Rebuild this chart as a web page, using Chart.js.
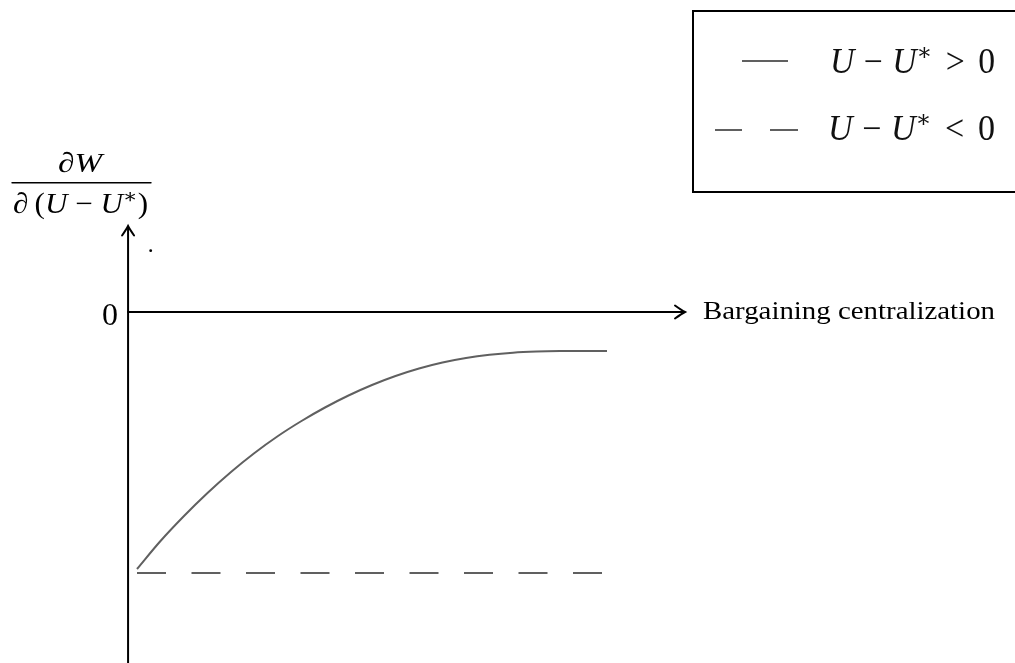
<!DOCTYPE html>
<html><head><meta charset="utf-8">
<script src="https://cdn.jsdelivr.net/npm/chart.js@4.4.0/dist/chart.umd.min.js"></script>
<style>html,body{margin:0;padding:0;background:#fff;}canvas{display:block;}</style>
</head><body>
<canvas id="c" width="1015" height="663"></canvas>
<script>
// ---- data (x: bargaining centralization, y: dW/d(U-U*)) ----
const curveX = [0, 0.5, 1, 1.5, 2, 2.5, 3, 3.5, 4, 4.5, 5, 5.5, 6, 6.5, 7, 7.5, 8, 8.5, 9, 9.5, 10];
const curveY = [-25.7, -22.9, -20.4, -18.1, -16.0, -14.1, -12.4, -10.9, -9.55, -8.35, -7.3, -6.4, -5.65, -5.05, -4.6, -4.28, -4.07, -3.96, -3.91, -3.9, -3.9];
const dashX = [0, 9.9];
const dashY = [-26.1, -26.1];
const xAxisTitle = 'Bargaining centralization';
const originTick = '0';
const seriesNames = ['U − U* > 0', 'U − U* < 0'];

const lineColor = '#606060';
const SERIF = '"Liberation Serif", "DejaVu Serif", serif';

function pts(xs, ys){ return xs.map((x,i)=>({x:x, y:ys[i]})); }

// split "U − U* > 0" into styled pieces with math-like spacing
function mathParts(label){
  const out = [];
  const chars = [...label];
  chars.forEach((ch, k) => {
    if (ch === 'U') out.push({t:'U', i:true});
    else if (ch === '*') out.push({t:'∗', sup:true});
    else if (ch === ' ') {
      const next = chars[k+1], prev = chars[k-1];
      const rel = (next === '>' || next === '<' || prev === '>' || prev === '<');
      out.push({g: rel ? 0.4 : 0.28});
    }
    else out.push({t:ch});
  });
  return out;
}
function drawParts(ctx, parts, x, base, size, targetW){
  ctx.save();
  const fontFor = p => (p.i ? 'italic ' : '') + (p.sup ? Math.round(size*0.68) : size) + 'px ' + SERIF;
  let total = 0;
  const ws = parts.map(p => {
    if (p.g !== undefined) { total += p.g*size; return p.g*size; }
    ctx.font = fontFor(p); const w = ctx.measureText(p.t).width; total += w; return w;
  });
  const s = targetW ? targetW / total : 1;
  ctx.translate(x, base);
  ctx.scale(s, 1);
  let cx = 0;
  parts.forEach((p, k) => {
    if (p.t !== undefined) {
      ctx.font = fontFor(p);
      ctx.fillText(p.t, cx, p.sup ? -size*0.36 : 0);
    }
    cx += ws[k];
  });
  ctx.restore();
}

function arrowHead(ctx, tx, ty, dir){
  ctx.beginPath();
  if (dir === 'right'){
    ctx.moveTo(tx-10, ty-6.5); ctx.quadraticCurveTo(tx-3, ty-1.5, tx, ty);
    ctx.quadraticCurveTo(tx-3, ty+1.5, tx-10, ty+6.5);
  } else {
    ctx.moveTo(tx-6, ty+9.5); ctx.quadraticCurveTo(tx-1.5, ty+3, tx, ty);
    ctx.quadraticCurveTo(tx+1.5, ty+3, tx+6, ty+9.5);
  }
  ctx.stroke();
}

const decor = {
  id: 'decor',
  afterDraw(chart){
    const ctx = chart.ctx;
    const xs = chart.scales.x, ys = chart.scales.y;
    const ax = xs.getPixelForValue(-0.19);   // vertical axis position
    const ay = ys.getPixelForValue(0);       // horizontal axis (y = 0)
    ctx.save();
    ctx.strokeStyle = '#000'; ctx.fillStyle = '#000';
    ctx.lineWidth = 2; ctx.lineCap = 'round';
    // y axis
    ctx.beginPath(); ctx.moveTo(ax, 663); ctx.lineTo(ax, 227); ctx.stroke();
    arrowHead(ctx, ax, 226, 'up');
    // x axis
    ctx.beginPath(); ctx.moveTo(ax, ay); ctx.lineTo(684, ay); ctx.stroke();
    arrowHead(ctx, 685, ay, 'right');
    // small dot
    ctx.beginPath(); ctx.arc(150.7, 250.7, 1.4, 0, Math.PI*2); ctx.fill();
    // origin tick label
    ctx.font = '32px ' + SERIF; ctx.textAlign = 'center'; ctx.textBaseline = 'alphabetic';
    ctx.fillText(originTick, 110, 325);
    // x axis title
    ctx.textAlign = 'left';
    drawParts(ctx, [{t: xAxisTitle}], 703, 319, 26, 292);
    // y axis title (fraction)
    drawParts(ctx, [{t:'∂'}, {t:'W', i:true}], 58, 172, 28, 44);
    ctx.lineWidth = 1.4;
    ctx.beginPath(); ctx.moveTo(12, 182.8); ctx.lineTo(151, 182.8); ctx.stroke();
    drawParts(ctx, [{t:'∂'}, {g:0.2}, {t:'('}, {t:'U', i:true}, {g:0.25}, {t:'−'}, {g:0.25}, {t:'U', i:true}, {t:'∗', sup:true}, {t:')'}], 13, 213, 29, 135);
    // legend box
    ctx.lineWidth = 2; ctx.lineCap = 'butt';
    ctx.strokeRect(693, 11, 340, 181);
    // legend samples
    ctx.strokeStyle = lineColor; ctx.lineWidth = 2;
    ctx.beginPath(); ctx.moveTo(742, 61); ctx.lineTo(788, 61); ctx.stroke();
    ctx.beginPath(); ctx.moveTo(715, 130); ctx.lineTo(742, 130); ctx.moveTo(770, 130); ctx.lineTo(798, 130); ctx.stroke();
    ctx.fillStyle = '#111';
    drawParts(ctx, mathParts(seriesNames[0]), 830, 73, 35, 165);
    drawParts(ctx, mathParts(seriesNames[1]), 828, 140, 35, 167);
    ctx.restore();
  }
};

new Chart(document.getElementById('c'), {
  type: 'line',
  data: {
    datasets: [
      { label: seriesNames[0], data: pts(curveX, curveY), borderColor: lineColor, borderWidth: 2,
        pointRadius: 0, cubicInterpolationMode: 'monotone', fill: false },
      { label: seriesNames[1], data: pts(dashX, dashY), borderColor: lineColor, borderWidth: 2,
        borderDash: [29, 25.5], pointRadius: 0, fill: false }
    ]
  },
  options: {
    responsive: false, animation: false, devicePixelRatio: 1,
    layout: { padding: 0 },
    plugins: { legend: { display: false }, tooltip: { enabled: false }, title: { display: false } },
    scales: {
      x: { type: 'linear', display: false, min: -137/47, max: (1015-137)/47 },
      y: { type: 'linear', display: false, min: -35.1, max: 31.2 }
    }
  },
  plugins: [decor]
});
</script>
</body></html>
